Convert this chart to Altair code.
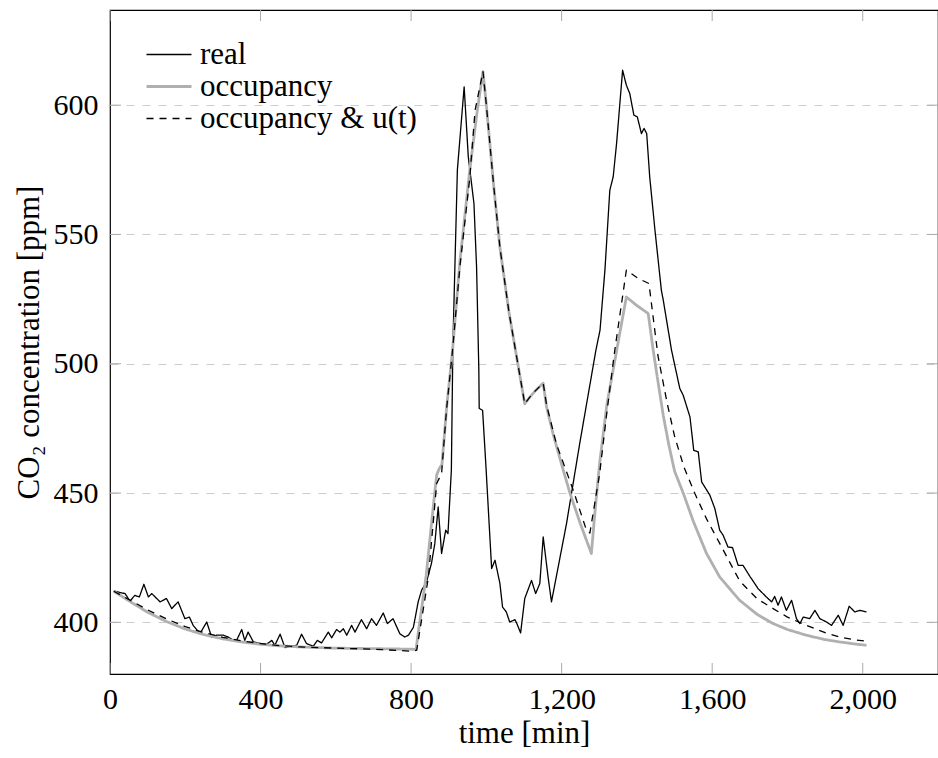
import altair as alt
import pandas as pd

FONT = "Times New Roman"
SERIES = ["real", "occupancy", "occupancy & u(t)"]

# ---- data ----
real_t = [10, 27, 40, 53, 66, 78, 90, 102, 111, 133, 150, 164, 181, 199, 211, 221, 239, 257, 270, 283,
          301, 314, 328, 337, 350, 358, 367, 381, 398, 416, 430, 438, 452, 465, 478, 496, 509, 522, 540, 551,
          562, 580, 589, 602, 611, 620, 629, 642, 651, 668, 682, 695, 708, 726, 737, 752, 770, 783, 793, 806,
          819, 828, 841, 854, 863, 872, 881, 892, 898, 907, 911, 923, 941, 952, 967, 974, 980, 981, 990, 999,
          1014, 1023, 1036, 1043, 1053, 1062, 1076, 1081, 1091, 1102, 1120, 1131, 1142, 1151, 1164, 1173, 1213, 1248, 1291, 1302,
          1315, 1328, 1337, 1346, 1362, 1372, 1381, 1392, 1401, 1412, 1419, 1426, 1434, 1448, 1465, 1470, 1492, 1514, 1523, 1541,
          1551, 1563, 1572, 1594, 1607, 1620, 1629, 1642, 1654, 1669, 1682, 1700, 1713, 1722, 1744, 1758, 1766, 1775, 1784, 1797,
          1811, 1824, 1833, 1842, 1859, 1873, 1886, 1904, 1917, 1935, 1948, 1964, 1979, 1992, 2010]
real_y = [412.1, 411.5, 411.1, 408.2, 410.4, 409.8, 414.7, 409.8, 411.1, 407.9, 409.2, 405.3, 407.9, 401.4, 402.0, 398.8, 395.6, 400.1, 394.3, 395.0,
          395.0, 394.3, 393.0, 393.2, 397.2, 393.0, 396.2, 392.4, 391.8, 391.5, 393.0, 391.1, 395.4, 390.2, 390.7, 391.1, 395.4, 391.8, 390.7, 393.0,
          392.0, 396.2, 394.0, 397.2, 396.2, 397.5, 395.0, 398.8, 396.2, 401.0, 397.5, 401.4, 398.8, 403.6, 399.5, 401.4, 395.6, 394.3, 395.0, 398.0,
          408.0, 412.4, 415.6, 422.7, 430.4, 444.6, 426.6, 435.6, 434.3, 458.8, 507.0, 575.0, 607.1, 580.0, 562.0, 537.4, 497.5, 482.7, 482.0, 460.0,
          420.8, 424.0, 415.0, 405.9, 404.0, 400.1, 401.0, 399.5, 395.9, 409.2, 416.2, 411.1, 415.0, 433.0, 417.5, 407.9, 438.2, 469.1, 505.2, 513.0,
          536.2, 567.1, 572.3, 585.2, 613.5, 607.7, 604.5, 596.1, 595.5, 589.0, 591.0, 589.0, 572.3, 551.6, 528.4, 524.6, 505.2, 490.4, 487.8, 479.4,
          466.5, 465.9, 454.3, 449.1, 444.0, 435.6, 433.7, 429.1, 428.9, 422.0, 422.0, 417.8, 415.0, 413.0, 409.8, 407.9, 410.0, 406.6, 409.8, 404.6,
          408.5, 401.4, 399.5, 402.0, 401.4, 404.6, 401.4, 400.1, 398.8, 402.7, 398.8, 406.2, 404.0, 404.6, 404.0]

occ_t = [10, 30, 60, 100, 150, 200, 250, 300, 350, 400, 450, 500, 600, 700, 800, 813, 840, 862, 868, 875,
         882, 895, 903, 910, 930, 956, 975, 991, 1000, 1020, 1036, 1060, 1080, 1102, 1115, 1130, 1151, 1160, 1177, 1200,
         1222, 1250, 1279, 1290, 1301, 1320, 1346, 1372, 1399, 1430, 1443, 1455, 1470, 1485, 1500, 1523, 1550, 1585, 1620, 1673,
         1720, 1762, 1800, 1850, 1900, 1939, 1980, 2010]
occ_y = [412.0, 410.2, 407.4, 403.9, 400.3, 397.4, 395.2, 393.6, 392.4, 391.5, 390.9, 390.5, 390.0, 389.8, 389.6, 389.5, 418.0, 449.0, 457.0, 459.5,
         461.0, 484.0, 495.0, 505.0, 540.0, 575.0, 597.0, 613.0, 600.0, 568.0, 545.0, 520.0, 503.0, 484.5, 487.0, 489.5, 492.5, 483.3, 473.0, 461.0,
         450.0, 438.0, 426.6, 445.0, 461.5, 484.0, 505.0, 525.8, 522.6, 519.4, 505.5, 494.0, 480.0, 468.5, 458.5, 450.0, 439.0, 426.6, 417.5, 408.5,
         403.0, 399.5, 397.2, 395.0, 393.3, 392.4, 391.6, 391.1]

ou_t = [10, 30, 60, 100, 150, 200, 250, 300, 350, 400, 450, 500, 600, 700, 805, 815, 846, 868, 881, 894,
        910, 930, 956, 970, 991, 1000, 1020, 1036, 1060, 1080, 1102, 1115, 1130, 1151, 1160, 1186, 1231, 1266, 1275, 1301,
        1320, 1341, 1372, 1403, 1432, 1456, 1480, 1500, 1525, 1554, 1585, 1620, 1673, 1720, 1762, 1800, 1850, 1900, 1939, 1980,
        2008]
ou_y = [412.0, 410.4, 408.0, 404.8, 401.3, 398.3, 396.0, 394.2, 392.8, 391.8, 391.0, 390.5, 390.0, 389.6, 388.8, 389.2, 417.5, 453.7, 457.5, 482.0,
        505.0, 538.0, 572.0, 598.0, 613.0, 600.0, 568.0, 545.0, 520.0, 503.0, 484.5, 487.0, 489.5, 492.5, 484.0, 469.0, 451.0, 435.6, 434.5, 457.5,
        481.0, 505.0, 536.2, 533.0, 531.0, 503.0, 485.0, 472.0, 460.0, 449.8, 440.0, 430.5, 416.0, 409.0, 405.3, 402.0, 398.8, 396.0, 394.3, 393.2,
        392.7]

x_ticks = [0, 400, 800, 1200, 1600, 2000]
y_ticks = [400, 450, 500, 550, 600]

# ---- chart ----
W, H = 828, 664
TICK = "#aaaaaa"

df_real = pd.DataFrame({"t": real_t, "co2": real_y, "series": SERIES[0]})
df_occ = pd.DataFrame({"t": occ_t, "co2": occ_y, "series": SERIES[1]})
df_ou = pd.DataFrame({"t": ou_t, "co2": ou_y, "series": SERIES[2]})
df_xt = pd.DataFrame({"t": x_ticks})
df_yt = pd.DataFrame({"co2": y_ticks})

xscale = alt.Scale(domain=[0, 2200], nice=False, zero=False)
yscale = alt.Scale(domain=[380, 636.8], nice=False, zero=False)

xaxis = alt.Axis(title="time [min]", values=x_ticks, format=",d", grid=False, ticks=False, domain=False,
                 labelFont=FONT, labelFontSize=30, labelColor="black", labelPadding=10, labelFlush=False,
                 titleFont=FONT, titleFontSize=31, titleFontWeight="normal", titleColor="black", titlePadding=4)
yaxis = alt.Axis(title="CO₂ concentration [ppm]", values=y_ticks, grid=True, gridDash=[8, 8], gridColor="#cccccc",
                 gridWidth=1, ticks=False, domain=False,
                 labelFont=FONT, labelFontSize=30, labelColor="black", labelPadding=12, labelFlush=False,
                 titleFont=FONT, titleFontSize=31, titleFontWeight="normal", titleColor="black", titlePadding=8)

X = alt.X("t:Q", scale=xscale, axis=xaxis)
Y = alt.Y("co2:Q", scale=yscale, axis=yaxis)

legend = alt.Legend(title=None, orient="none", legendX=35, legendY=29, symbolType="stroke", symbolSize=2025,
                    labelFont=FONT, labelFontSize=31, labelColor="black", labelOffset=7, labelLimit=500,
                    padding=0, rowPadding=0, clipHeight=31)
color = alt.Color("series:N", scale=alt.Scale(domain=SERIES, range=["black", "#b0b0b0", "black"]), legend=legend)
dash = alt.StrokeDash("series:N", scale=alt.Scale(domain=SERIES, range=[[1, 0], [1, 0], [7, 6]]), legend=legend)
width = alt.StrokeWidth("series:N", scale=alt.Scale(type="ordinal", domain=SERIES, range=[1.3, 2.8, 1.3]), legend=legend)


def line(df):
    return alt.Chart(df).mark_line(strokeJoin="round").encode(x=X, y=Y, color=color, strokeDash=dash, strokeWidth=width)


bottom_ticks = alt.Chart(df_xt).mark_rule(color=TICK, strokeWidth=1).encode(x=X, y=alt.value(H), y2=alt.value(H - 11))
top_ticks = alt.Chart(df_xt).mark_rule(color=TICK, strokeWidth=1).encode(x=X, y=alt.value(0), y2=alt.value(11))
left_ticks = alt.Chart(df_yt).mark_rule(color=TICK, strokeWidth=1).encode(y=Y, x=alt.value(0), x2=alt.value(11))
right_ticks = alt.Chart(df_yt).mark_rule(color=TICK, strokeWidth=1).encode(y=Y, x=alt.value(W - 11), x2=alt.value(W))

chart = alt.layer(
    bottom_ticks, top_ticks, left_ticks, right_ticks,
    line(df_real), line(df_occ), line(df_ou),
).properties(
    width=W, height=H,
    padding={"left": 110, "top": 10, "right": 0, "bottom": 84},
    autosize=alt.AutoSizeParams(type="none"),
    background="white",
).configure_view(stroke="black", strokeWidth=1.2)

chart.save("out.html", embed_options={"renderer": "svg", "actions": False})
